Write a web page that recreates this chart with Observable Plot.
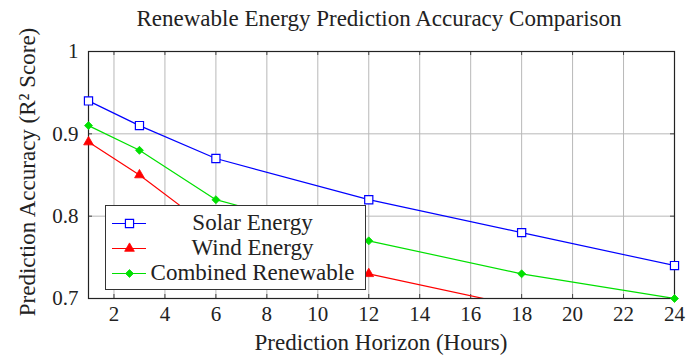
<!DOCTYPE html>
<html><head><meta charset="utf-8">
<script src="https://cdn.jsdelivr.net/npm/d3@7"></script>
<script src="https://cdn.jsdelivr.net/npm/@observablehq/plot@0.6"></script>
<style>
body{margin:0;background:#fff;}
#wrap{position:relative;width:699px;height:356px;font-family:"Liberation Serif",serif;color:#222;overflow:hidden;}
#wrap > svg{position:absolute;left:0;top:0;}
.title{position:absolute;left:0;width:758px;top:6px;text-align:center;font-size:23px;line-height:26px;white-space:nowrap;}
.xlab{position:absolute;left:0;width:762px;top:330px;text-align:center;font-size:23px;line-height:26px;white-space:nowrap;}
.ylab{position:absolute;left:28px;top:172px;transform:translate(-50%,-50%) rotate(-90deg);font-size:23px;line-height:26px;white-space:nowrap;}
.legend{position:absolute;left:105px;top:205px;width:259px;height:83px;border:1px solid #333;background:#fff;}
.row{position:absolute;left:0;width:259px;height:24px;}
.row svg{position:absolute;left:6px;top:7px;}
.row span{position:absolute;left:34px;right:0;text-align:center;font-size:23px;line-height:24px;white-space:nowrap;}
</style></head><body>
<div id="wrap"></div>
<script>
const titleText = "Renewable Energy Prediction Accuracy Comparison";
const xLabel = "Prediction Horizon (Hours)";
const yLabel = "Prediction Accuracy (R² Score)";
const hours = [1, 3, 6, 12, 18, 24];
const solar = [0.94, 0.91, 0.87, 0.82, 0.78, 0.74];
const wind = [0.89, 0.85, 0.78, 0.73, 0.69, 0.65];
const combined = [0.91, 0.88, 0.82, 0.77, 0.73, 0.70];
const seriesNames = ["Solar Energy", "Wind Energy", "Combined Renewable"];
const xTicks = [2, 4, 6, 8, 10, 12, 14, 16, 18, 20, 22, 24];
const yTicks = [0.7, 0.8, 0.9, 1];

const colors = ["#0000ff", "#ff0000", "#00e000"];
const symbols = ["square", "triangle", "diamond2"];
const allValues = [solar, wind, combined];
const series = seriesNames.map((name, i) => ({
  name, color: colors[i], symbol: symbols[i],
  rows: hours.map((h, j) => ({x: h, y: allValues[i][j], name}))
}));

const W = 699, H = 356, mL = 88, mR = 25, mT = 51, mB = 58;
const innerH = H - mT - mB;

const marks = [
  Plot.gridX(xTicks.filter(t => t < 24), {stroke: "#b8b8b8", strokeOpacity: 1, strokeWidth: 1}),
  Plot.gridY(yTicks.filter(t => t > 0.7 && t < 1), {stroke: "#b8b8b8", strokeOpacity: 1, strokeWidth: 1}),
  Plot.ruleX(xTicks, {x: d => d, insetTop: innerH - 4, stroke: "#444"}),
  Plot.ruleX(xTicks, {x: d => d, insetBottom: innerH - 4, stroke: "#444"}),
  Plot.ruleY(yTicks, {y: d => d, insetRight: W - mL - mR - 4, stroke: "#444"}),
  Plot.ruleY(yTicks, {y: d => d, insetLeft: W - mL - mR - 4, stroke: "#444"}),
];
for (const s of series) {
  marks.push(Plot.line(s.rows, {x: "x", y: "y", stroke: s.color, strokeWidth: 1.2, clip: true}));
}
marks.push(Plot.frame({stroke: "#222", strokeWidth: 1.2}));
const dotStyle = [
  {r: 4.6, fill: "white", strokeWidth: 1.2},
  {r: 3.6, strokeWidth: 0.8},
  {r: 3.6, strokeWidth: 0.8}
];
series.forEach((s, i) => {
  const st = dotStyle[i];
  marks.push(Plot.dot(s.rows.filter(d => d.y >= 0.7), {
    x: "x", y: "y", symbol: () => s.symbol, r: st.r,
    stroke: s.color, fill: st.fill || s.color, strokeWidth: st.strokeWidth
  }));
});
marks.push(Plot.axisX({ticks: xTicks, tickSize: 0, tickPadding: 8, label: null, fontSize: 21, tickFormat: d => String(d)}));
marks.push(Plot.axisY({ticks: yTicks, tickSize: 0, tickPadding: 10, label: null, fontSize: 21,
  tickFormat: d => d === 1 ? "1" : d.toFixed(1)}));

const chart = Plot.plot({
  width: W, height: H,
  marginLeft: mL, marginRight: mR, marginTop: mT, marginBottom: mB,
  style: {fontFamily: "'Liberation Serif', serif", fontSize: "21px", color: "#222", background: "transparent"},
  x: {domain: [1, 24]},
  y: {domain: [0.7, 1]},
  symbol: {type: "identity"},
  marks
});

const wrap = document.getElementById("wrap");
wrap.appendChild(chart);

const mk = (cls, text) => { const d = document.createElement("div"); d.className = cls; d.textContent = text; wrap.appendChild(d); return d; };
mk("title", titleText);
mk("xlab", xLabel);
mk("ylab", yLabel);

const legend = document.createElement("div");
legend.className = "legend";
series.forEach((s, i) => {
  const row = document.createElement("div");
  row.className = "row";
  row.style.top = (5 + i * 25) + "px";
  const sw = Plot.plot({
    width: 34, height: 10, margin: 0, axis: null,
    x: {domain: [0, 2]}, y: {domain: [0, 1]},
    symbol: {type: "identity"},
    marks: [
      Plot.ruleY([0.5], {stroke: s.color, strokeWidth: 1.2}),
      Plot.dot([1], {x: d => d, y: () => 0.5, symbol: () => s.symbol, r: dotStyle[i].r,
        stroke: s.color, fill: dotStyle[i].fill || s.color, strokeWidth: dotStyle[i].strokeWidth})
    ]
  });
  sw.style.overflow = "visible";
  row.appendChild(sw);
  const sp = document.createElement("span");
  sp.textContent = s.name;
  row.appendChild(sp);
  legend.appendChild(row);
});
wrap.appendChild(legend);
</script>
</body></html>
